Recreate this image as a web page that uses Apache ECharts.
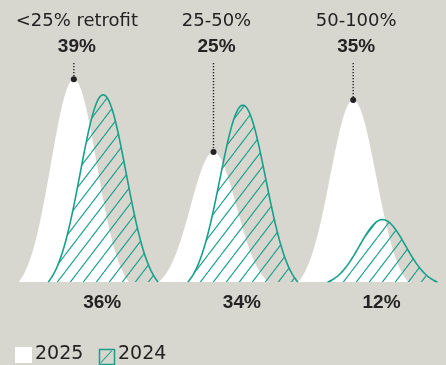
<!DOCTYPE html>
<html>
<head>
<meta charset="utf-8">
<script src="https://cdn.jsdelivr.net/npm/echarts@6/dist/echarts.min.js"></script>
<style>
  html, body { margin: 0; padding: 0; background: #d7d6cf; }
  #chart { width: 446px; height: 365px; }
</style>
</head>
<body>
<div id="chart"></div>
<script>
// Share of projects by retrofit depth, 2025 vs 2024
const categories = ['<25% retrofit', '25-50%', '50-100%'];
const share2025 = [39, 25, 35];
const share2024 = [36, 34, 12];
const legendYears = ['2025', '2024'];

const BG = '#d7d6cf';
const TEAL = '#18a08b';
const INK = '#232323';
const HALF_WIDTH = 0.394;   // half the base width of each bell, in x units
const OFFSET_2024 = 0.21;   // 2024 bell sits right of the 2025 bell
const SPREAD = 2.4;         // bell spread in standard deviations per half width

// diagonal hatch tile for the 2024 bells
function hatchTile() {
  const w = 13, h = 17;
  const c = document.createElement('canvas');
  c.width = w; c.height = h;
  const ctx = c.getContext('2d');
  ctx.strokeStyle = TEAL;
  ctx.lineWidth = 1.1;
  for (const dx of [-w, 0, w]) {
    ctx.beginPath();
    ctx.moveTo(dx, h);
    ctx.lineTo(dx + w, 0);
    ctx.stroke();
  }
  return c;
}
const hatch = { image: hatchTile(), repeat: 'repeat' };

function bell(api, xVal, value) {
  const base = api.coord([xVal, 0]);
  const peak = api.coord([xVal, value]);
  const hw = api.coord([xVal + HALF_WIDTH, 0])[0] - base[0];
  const e0 = Math.exp(-SPREAD * SPREAD / 2);
  const pts = [];
  const N = 60;
  for (let k = -N; k <= N; k++) {
    const t = k / N;
    const g = (Math.exp(-Math.pow(t * SPREAD, 2) / 2) - e0) / (1 - e0);
    pts.push([base[0] + t * hw, base[1] - g * (base[1] - peak[1])]);
  }
  return { pts, base, peak };
}

const chart = echarts.init(document.getElementById('chart'), null, { renderer: 'canvas' });

chart.setOption({
  backgroundColor: BG,
  animation: false,
  grid: { left: 4, right: 9, top: 48, bottom: 83 },
  xAxis: { type: 'value', min: -0.5, max: 2.6, show: false },
  yAxis: { type: 'value', min: 0, max: 45, show: false },
  series: [
    {
      name: legendYears[0],
      type: 'custom',
      data: share2025.map((v, i) => [i, v]),
      renderItem: function (params, api) {
        const i = api.value(0);
        const v = api.value(1);
        const b = bell(api, i, v);
        const cx = b.peak[0];
        return {
          type: 'group',
          children: [
            { type: 'polygon', shape: { points: b.pts }, style: { fill: '#ffffff' } },
            { type: 'line', shape: { x1: cx, y1: 63, x2: cx, y2: b.peak[1] - 3 },
              style: { stroke: INK, lineWidth: 1.4, lineDash: [1.3, 1.7] } },
            { type: 'circle', shape: { cx: cx, cy: b.peak[1], r: 3 }, style: { fill: INK } },
            { type: 'text', x: cx + 3, y: 21,
              style: { text: categories[i], fill: INK, font: '18px "DejaVu Sans"',
                       align: 'center', verticalAlign: 'middle' } },
            { type: 'text', x: cx + 3, y: 47,
              style: { text: v + '%', fill: INK, font: 'bold 19px "Liberation Sans"',
                       align: 'center', verticalAlign: 'middle' } }
          ]
        };
      }
    },
    {
      name: legendYears[1],
      type: 'custom',
      data: share2024.map((v, i) => [i + OFFSET_2024, v]),
      renderItem: function (params, api) {
        const x = api.value(0);
        const v = api.value(1);
        const b = bell(api, x, v);
        return {
          type: 'group',
          children: [
            { type: 'polygon', shape: { points: b.pts }, style: { fill: hatch } },
            { type: 'polyline', shape: { points: b.pts }, style: { stroke: TEAL, lineWidth: 1.6, fill: null } },
            { type: 'text', x: b.base[0] - 1, y: 303,
              style: { text: v + '%', fill: INK, font: 'bold 19px "Liberation Sans"',
                       align: 'center', verticalAlign: 'middle' } }
          ]
        };
      }
    }
  ],
  graphic: [
    { type: 'rect', left: 15, top: 347, shape: { width: 17, height: 16 }, style: { fill: '#ffffff' } },
    { type: 'text', left: 35, top: 345, style: { text: legendYears[0], fill: INK, font: '19px "DejaVu Sans"' } },
    { type: 'group', left: 97, top: 347, children: [
      { type: 'rect', shape: { x: 0.75, y: 0.75, width: 15, height: 15 }, style: { fill: 'none', stroke: TEAL, lineWidth: 1.5 } },
      { type: 'line', shape: { x1: 2, y1: 14, x2: 13, y2: 2 }, style: { stroke: TEAL, lineWidth: 1.1 } }
    ] },
    { type: 'text', left: 118, top: 345, style: { text: legendYears[1], fill: INK, font: '19px "DejaVu Sans"' } }
  ]
});
</script>
</body>
</html>
